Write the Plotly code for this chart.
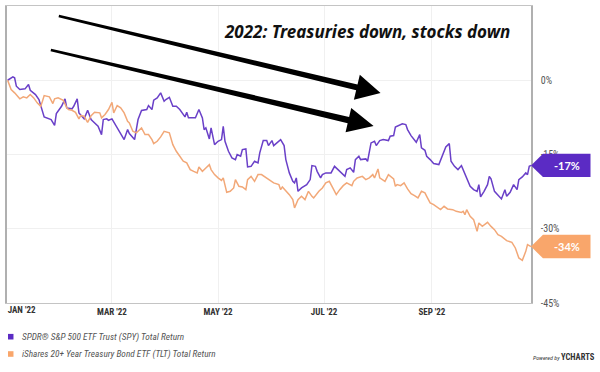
import math
import plotly.graph_objects as go

# ---------------- data ----------------
spy_dates = [
    "2021-12-31", "2022-01-03", "2022-01-04", "2022-01-05", "2022-01-07", "2022-01-10", "2022-01-12", "2022-01-13",
    "2022-01-16", "2022-01-18", "2022-01-21", "2022-01-23", "2022-01-25", "2022-01-27", "2022-01-28", "2022-01-31",
    "2022-02-02", "2022-02-03", "2022-02-06", "2022-02-07", "2022-02-09", "2022-02-10", "2022-02-12", "2022-02-13",
    "2022-02-15", "2022-02-17", "2022-02-18", "2022-02-21", "2022-02-23", "2022-02-24", "2022-02-26", "2022-02-27",
    "2022-03-01", "2022-03-03", "2022-03-05", "2022-03-08", "2022-03-10", "2022-03-11", "2022-03-14", "2022-03-16",
    "2022-03-18", "2022-03-21", "2022-03-22", "2022-03-24", "2022-03-25", "2022-03-27", "2022-03-29", "2022-03-31",
    "2022-04-01", "2022-04-03", "2022-04-05", "2022-04-07", "2022-04-09", "2022-04-12", "2022-04-13", "2022-04-14",
    "2022-04-18", "2022-04-20", "2022-04-22", "2022-04-23", "2022-04-24", "2022-04-26", "2022-04-27", "2022-04-29",
    "2022-05-01", "2022-05-03", "2022-05-04", "2022-05-05", "2022-05-07", "2022-05-09", "2022-05-11", "2022-05-12",
    "2022-05-14", "2022-05-15", "2022-05-17", "2022-05-18", "2022-05-20", "2022-05-22", "2022-05-24", "2022-05-25",
    "2022-05-27", "2022-05-29", "2022-05-30", "2022-06-01", "2022-06-02", "2022-06-05", "2022-06-06", "2022-06-08",
    "2022-06-09", "2022-06-11", "2022-06-13", "2022-06-14", "2022-06-15", "2022-06-16", "2022-06-18", "2022-06-21",
    "2022-06-23", "2022-06-24", "2022-06-26", "2022-06-27", "2022-06-29", "2022-06-30", "2022-07-02", "2022-07-05",
    "2022-07-07", "2022-07-09", "2022-07-11", "2022-07-13", "2022-07-14", "2022-07-16", "2022-07-18", "2022-07-19",
    "2022-07-21", "2022-07-22", "2022-07-25", "2022-07-26", "2022-07-28", "2022-07-30", "2022-07-31", "2022-08-02",
    "2022-08-04", "2022-08-07", "2022-08-08", "2022-08-10", "2022-08-11", "2022-08-13", "2022-08-15", "2022-08-17",
    "2022-08-18", "2022-08-20", "2022-08-22", "2022-08-23", "2022-08-25", "2022-08-26", "2022-08-28", "2022-08-29",
    "2022-08-31", "2022-09-02", "2022-09-05", "2022-09-07", "2022-09-09", "2022-09-11", "2022-09-12", "2022-09-14",
    "2022-09-16", "2022-09-18", "2022-09-19", "2022-09-21", "2022-09-23", "2022-09-25", "2022-09-27", "2022-09-28",
    "2022-09-29", "2022-10-01", "2022-10-03", "2022-10-04", "2022-10-05", "2022-10-07", "2022-10-09", "2022-10-11",
    "2022-10-13", "2022-10-14", "2022-10-16", "2022-10-18", "2022-10-20", "2022-10-21", "2022-10-23", "2022-10-25",
    "2022-10-26", "2022-10-27", "2022-10-28",
]
spy_ret = [
    0.0, 0.69, 0.49, -1.21, -1.88, -1.74, -0.87, -2.02,
    -2.89, -3.90, -7.40, -7.60, -7.94, -9.10, -6.73, -5.26,
    -3.76, -5.58, -5.78, -5.26, -3.76, -6.59, -7.28, -7.80,
    -6.06, -7.94, -8.29, -9.30, -10.98, -7.94, -7.80, -8.09,
    -7.80, -8.96, -10.31, -11.99, -9.97, -10.78, -11.99, -7.94,
    -6.10, -5.92, -5.11, -5.92, -4.04, -3.56, -2.55, -4.25,
    -3.90, -3.44, -5.26, -5.26, -5.92, -7.40, -6.47, -7.60,
    -7.60, -5.92, -7.60, -9.97, -9.62, -11.85, -9.62, -13.00,
    -12.33, -11.99, -9.30, -12.33, -14.35, -15.69, -16.03, -15.02,
    -15.36, -14.01, -13.87, -17.51, -17.39, -16.37, -16.70, -14.68,
    -12.19, -12.19, -13.20, -12.19, -13.20, -12.19, -11.99, -13.20,
    -16.03, -18.72, -20.42, -20.74, -19.73, -22.44, -21.75, -21.09,
    -20.07, -17.24, -17.39, -18.40, -19.73, -19.06, -18.72, -18.72,
    -17.39, -18.05, -18.72, -19.41, -18.05, -17.71, -18.60, -16.03,
    -15.36, -16.03, -15.89, -16.37, -12.66, -12.33, -13.20, -12.19,
    -11.99, -12.19, -11.32, -11.18, -9.46, -9.06, -8.81, -8.96,
    -9.97, -11.18, -12.13, -12.53, -10.98, -13.67, -14.15, -15.36,
    -16.03, -16.84, -17.04, -15.36, -13.46, -12.80, -16.37, -17.39,
    -18.05, -17.24, -18.05, -19.73, -21.43, -22.10, -22.44, -21.09,
    -23.57, -22.44, -21.09, -19.41, -19.93, -22.44, -23.11, -23.98,
    -22.10, -23.45, -22.64, -21.09, -22.10, -20.07, -19.53, -18.72,
    -19.06, -17.39, -17.20,
]

tlt_dates = [
    "2021-12-31", "2022-01-02", "2022-01-04", "2022-01-06", "2022-01-07", "2022-01-09", "2022-01-11", "2022-01-13",
    "2022-01-15", "2022-01-17", "2022-01-19", "2022-01-20", "2022-01-21", "2022-01-24", "2022-01-26", "2022-01-27",
    "2022-01-29", "2022-02-01", "2022-02-03", "2022-02-04", "2022-02-06", "2022-02-08", "2022-02-10", "2022-02-11",
    "2022-02-13", "2022-02-15", "2022-02-17", "2022-02-19", "2022-02-22", "2022-02-23", "2022-02-25", "2022-02-27",
    "2022-03-01", "2022-03-02", "2022-03-04", "2022-03-06", "2022-03-08", "2022-03-10", "2022-03-11", "2022-03-13",
    "2022-03-15", "2022-03-18", "2022-03-20", "2022-03-22", "2022-03-24", "2022-03-25", "2022-03-27", "2022-03-29",
    "2022-03-31", "2022-04-03", "2022-04-04", "2022-04-05", "2022-04-07", "2022-04-09", "2022-04-11", "2022-04-13",
    "2022-04-15", "2022-04-17", "2022-04-19", "2022-04-20", "2022-04-22", "2022-04-24", "2022-04-26", "2022-04-27",
    "2022-04-29", "2022-05-01", "2022-05-03", "2022-05-04", "2022-05-06", "2022-05-08", "2022-05-10", "2022-05-11",
    "2022-05-13", "2022-05-15", "2022-05-17", "2022-05-18", "2022-05-20", "2022-05-22", "2022-05-24", "2022-05-26",
    "2022-05-28", "2022-05-30", "2022-06-02", "2022-06-05", "2022-06-06", "2022-06-07", "2022-06-09", "2022-06-11",
    "2022-06-13", "2022-06-14", "2022-06-16", "2022-06-18", "2022-06-20", "2022-06-22", "2022-06-24", "2022-06-25",
    "2022-06-28", "2022-06-30", "2022-07-02", "2022-07-04", "2022-07-06", "2022-07-08", "2022-07-10", "2022-07-12",
    "2022-07-14", "2022-07-15", "2022-07-17", "2022-07-18", "2022-07-20", "2022-07-23", "2022-07-25", "2022-07-27",
    "2022-07-29", "2022-07-30", "2022-08-01", "2022-08-02", "2022-08-05", "2022-08-07", "2022-08-08", "2022-08-10",
    "2022-08-11", "2022-08-12", "2022-08-14", "2022-08-16", "2022-08-18", "2022-08-20", "2022-08-22", "2022-08-24",
    "2022-08-26", "2022-08-28", "2022-08-29", "2022-08-31", "2022-09-02", "2022-09-04", "2022-09-06", "2022-09-08",
    "2022-09-10", "2022-09-13", "2022-09-15", "2022-09-18", "2022-09-19", "2022-09-20", "2022-09-21", "2022-09-23",
    "2022-09-25", "2022-09-27", "2022-09-28", "2022-09-30", "2022-10-03", "2022-10-05", "2022-10-07", "2022-10-09",
    "2022-10-11", "2022-10-14", "2022-10-17", "2022-10-19", "2022-10-21", "2022-10-23", "2022-10-25", "2022-10-26",
    "2022-10-28",
]
tlt_ret = [
    0.0, -1.88, -2.55, -3.23, -3.76, -3.36, -3.56, -2.89,
    -3.56, -4.57, -5.26, -4.25, -3.09, -3.36, -4.71, -3.76,
    -3.56, -4.04, -5.58, -5.92, -6.06, -6.47, -7.80, -7.14,
    -7.28, -8.49, -7.14, -6.47, -6.59, -7.60, -6.93, -5.92,
    -4.45, -6.59, -5.11, -5.58, -6.59, -8.29, -8.61, -10.31,
    -10.63, -9.62, -10.98, -10.98, -11.99, -12.80, -12.33, -11.44,
    -10.31, -10.63, -11.64, -13.00, -14.35, -15.36, -16.37, -16.70,
    -18.05, -18.40, -18.72, -17.51, -18.40, -17.71, -17.04, -18.05,
    -19.06, -19.73, -20.22, -19.73, -22.64, -22.44, -21.75, -20.07,
    -21.43, -21.55, -22.10, -20.07, -19.41, -20.42, -19.06, -19.06,
    -19.53, -20.07, -20.74, -21.09, -22.10, -21.55, -22.24, -23.11,
    -24.12, -25.80, -24.12, -23.45, -24.12, -22.44, -23.45, -23.77,
    -22.44, -21.75, -20.74, -20.42, -21.75, -23.11, -22.10, -21.29,
    -20.74, -20.88, -21.29, -20.42, -19.73, -19.41, -20.07, -19.73,
    -19.06, -19.73, -17.91, -19.73, -20.42, -19.06, -19.41, -19.93,
    -21.43, -21.09, -21.29, -20.74, -21.95, -22.90, -23.31, -23.77,
    -22.44, -22.76, -23.45, -24.78, -25.13, -25.59, -26.14, -25.47,
    -26.00, -26.14, -26.48, -26.69, -26.48, -27.15, -26.14, -27.49,
    -28.16, -30.53, -28.83, -29.52, -28.71, -29.52, -30.18, -31.19,
    -31.54, -32.41, -32.75, -33.88, -35.90, -36.39, -34.57, -33.21,
    -33.60,
]

series_names = [
    "SPDR® S&P 500 ETF Trust (SPY) Total Return",
    "iShares 20+ Year Treasury Bond ETF (TLT) Total Return",
]
x_tick_dates = ["2022-03-01", "2022-05-01", "2022-07-01", "2022-09-01"]
x_tick_labels = ["MAR '22", "MAY '22", "JUL '22", "SEP '22"]
first_tick_date = ["2022-01-08"]
first_tick_label = ["JAN '22"]
y_ticks = [0, -15, -30, -45]
y_tick_labels = ["0%", "-15%", "-30%", "-45%"]
title_text = "2022: Treasuries down, stocks down"

# ---------------- styling ----------------
W, H = 600, 372
ML, MR, MT, MB = 5, 69, 6, 69
PW, PH = W - ML - MR, H - MT - MB
Y_RANGE = [-45, 15]
X_RANGE = ["2021-12-30 15:00", "2022-10-28 00:00"]
line_colors = ["#6a40c8", "#f2a878"]
tag_colors = ["#5b2bc4", "#f9a66b"]
NARROW = "Liberation Sans Narrow, Roboto Condensed, DejaVu Sans Condensed, Roboto, sans-serif"


def px(x):
    return (x - ML) / PW


def py(y):
    return (H - MB - y) / PH


def arrow_path(tail, tip, w_tail, w_shaft, head_len, head_hw):
    dx, dy = tip[0] - tail[0], tip[1] - tail[1]
    L = math.hypot(dx, dy)
    ux, uy = dx / L, dy / L
    nx, ny = -uy, ux
    bx, by = tip[0] - ux * head_len, tip[1] - uy * head_len
    pts = [
        (tail[0] + nx * w_tail / 2, tail[1] + ny * w_tail / 2),
        (bx + nx * w_shaft / 2, by + ny * w_shaft / 2),
        (bx + nx * head_hw, by + ny * head_hw),
        tip,
        (bx - nx * head_hw, by - ny * head_hw),
        (bx - nx * w_shaft / 2, by - ny * w_shaft / 2),
        (tail[0] - nx * w_tail / 2, tail[1] - ny * w_tail / 2),
    ]
    return "M " + " L ".join(f"{px(a):.4f},{py(b):.4f}" for a, b in pts) + " Z"


fig = go.Figure()
for d, v, name, c in [(spy_dates, spy_ret, series_names[0], line_colors[0]),
                      (tlt_dates, tlt_ret, series_names[1], line_colors[1])]:
    fig.add_trace(go.Scatter(x=d, y=v, mode="lines", name=name,
                             line=dict(color=c, width=1.5), showlegend=False))
# helper trace so the secondary (label-only) x axis is drawn
fig.add_trace(go.Scatter(x=[spy_dates[0]], y=[None], xaxis="x2", mode="lines",
                         showlegend=False, hoverinfo="skip"))

shapes = []
annotations = []

# value tags on the right
px_per_unit = PH / (Y_RANGE[1] - Y_RANGE[0])
half_h = 11.7 / px_per_unit
xa = px(543)
xb = px(590.7)
for vals, c in [(spy_ret, tag_colors[0]), (tlt_ret, tag_colors[1])]:
    v = vals[-1]
    shapes.append(dict(type="path", xref="paper", yref="y", layer="above",
                       path=f"M 1.0,{v} L {xa},{v + half_h} L {xb},{v + half_h} L {xb},{v - half_h} L {xa},{v - half_h} Z",
                       fillcolor=c, line=dict(width=0)))
    annotations.append(dict(xref="paper", yref="y", x=(xa + xb) / 2, y=v,
                            xanchor="center", yanchor="middle",
                            text=f"<b>{round(v)}%</b>", showarrow=False,
                            font=dict(color="white", size=11, family="Lato, Open Sans, sans-serif")))

# arrows
shapes.append(dict(type="path", xref="paper", yref="paper", layer="above",
                   path=arrow_path((57, 16), (380, 93), 2.5, 6.0, 24.5, 12.8),
                   fillcolor="black", line=dict(width=0)))
shapes.append(dict(type="path", xref="paper", yref="paper", layer="above",
                   path=arrow_path((49, 50), (373, 126), 2.5, 6.5, 26.0, 12.4),
                   fillcolor="black", line=dict(width=0)))

# title text
annotations.append(dict(xref="paper", yref="paper", x=px(366), y=py(31.5),
                        text=f"<b><i>{title_text}</i></b>", showarrow=False,
                        xanchor="center", yanchor="middle",
                        font=dict(size=17, color="#111111", family="Noto Sans, DejaVu Sans, sans-serif")))

# legend (swatch + text)
for i, (name, c) in enumerate(zip(series_names, tag_colors)):
    yc = 336.7 + i * 17.3
    shapes.append(dict(type="rect", xref="paper", yref="paper",
                       x0=px(6), x1=px(11.5), y0=py(yc + 2.8), y1=py(yc - 2.8),
                       fillcolor=c, line=dict(width=0)))
    annotations.append(dict(xref="paper", yref="paper", x=px(18), y=py(yc),
                            text=f"<i>{name}</i>", showarrow=False,
                            xanchor="left", yanchor="middle",
                            font=dict(size=9.3, color="#555555", family=NARROW)))

# powered by
annotations.append(dict(xref="paper", yref="paper", x=px(597), y=py(357.5),
                        text="<i><span style='font-size:6px'>Powered by </span></i><b>YCHARTS</b>",
                        showarrow=False, xanchor="right", yanchor="middle",
                        font=dict(size=8.5, color="#333333", family=NARROW)))

fig.update_layout(
    width=W, height=H, autosize=False,
    margin=dict(l=ML, r=MR, t=MT, b=MB, pad=0),
    plot_bgcolor="white", paper_bgcolor="white",
    shapes=shapes, annotations=annotations,
    xaxis=dict(type="date", range=X_RANGE, tickvals=x_tick_dates, ticktext=x_tick_labels,
               showgrid=True, gridcolor="#f0f0f0", gridwidth=1, zeroline=False,
               showline=True, linecolor="#c4c4c4", linewidth=1, mirror=True,
               ticks="", tickfont=dict(size=9, color="#333333", family=NARROW, weight="bold")),
    xaxis2=dict(type="date", overlaying="x", matches="x", anchor="y", side="bottom",
                tickvals=first_tick_date, ticktext=first_tick_label, showgrid=False,
                showline=False, zeroline=False, ticks="",
                tickfont=dict(size=9, color="#333333", family=NARROW, weight="bold")),
    yaxis=dict(range=Y_RANGE, side="right", tickvals=y_ticks, ticktext=y_tick_labels,
               showgrid=True, gridcolor="#f0f0f0", gridwidth=1, zeroline=False,
               showline=True, linecolor="#b0b0b0", linewidth=1.5, mirror=True,
               ticks="", ticklabelstandoff=6,
               tickfont=dict(size=10, color="#555555", family=NARROW)),
    hovermode=False,
)

fig.write_html("out.html", config={"displayModeBar": False},
               post_script="document.body.style.margin='0px';")
